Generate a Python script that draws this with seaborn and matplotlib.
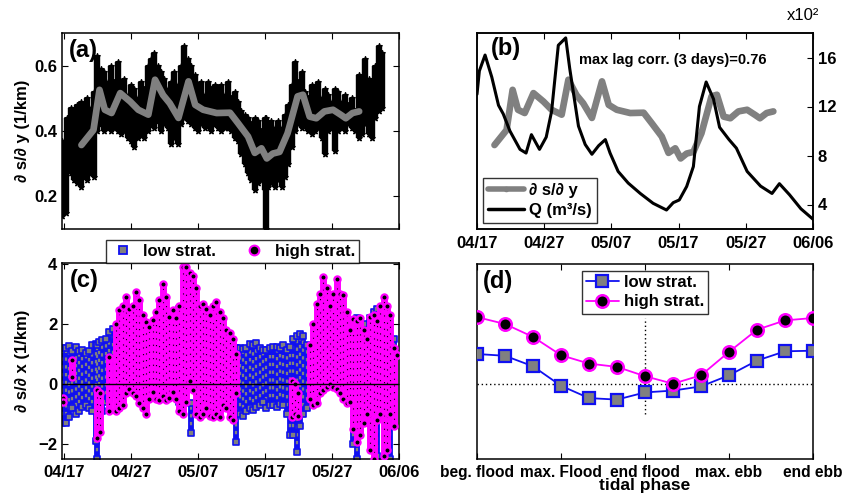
import numpy as np
import pandas as pd
import matplotlib
matplotlib.use("Agg")
import matplotlib.pyplot as plt
import seaborn as sns
from matplotlib.lines import Line2D

# ---------------- data ----------------
date_ticks = [0, 10, 20, 30, 40, 50]
date_labels = ["04/17", "04/27", "05/07", "05/17", "05/27", "06/06"]

# (a) tidal-scale ds/dy envelope (days since 04/17)
a_days = [-0.25, 0.25, 0.5, 1.0, 1.5, 2.0, 2.5, 3.0, 3.5, 4.0, 4.5, 5.0, 5.5, 6.0, 6.5, 7.0,
          7.5, 8.0, 8.5, 9.0, 9.5, 10.0, 10.5, 11.0, 11.5, 12.0, 12.5, 13.0, 13.5, 14.0, 14.5,
          15.0, 15.5, 16.0, 16.5, 17.0, 17.5, 18.0, 18.5, 19.0, 19.5, 20.0, 20.5, 21.0, 21.5,
          22.0, 22.5, 23.0, 23.5, 24.0, 24.5, 25.0, 25.5, 26.0, 26.5, 27.0, 27.5, 28.0, 28.5,
          29.0, 29.5, 30.0, 30.25, 30.5, 31.0, 31.5, 32.0, 32.5, 33.0, 33.5, 34.0, 34.5, 35.0,
          35.5, 36.0, 36.5, 37.0, 37.5, 38.0, 38.5, 39.0, 39.5, 40.0, 40.5, 41.0, 41.5, 42.0,
          42.5, 43.0, 43.5, 44.0, 44.5, 45.0, 45.5, 46.0, 46.5, 47.0, 47.5]
a_top = [0.37, 0.36, 0.44, 0.47, 0.43, 0.48, 0.49, 0.46, 0.50, 0.47, 0.52, 0.63, 0.59, 0.58,
         0.55, 0.60, 0.55, 0.61, 0.54, 0.56, 0.51, 0.54, 0.53, 0.50, 0.55, 0.53, 0.60, 0.62,
         0.64, 0.60, 0.58, 0.56, 0.53, 0.55, 0.58, 0.54, 0.60, 0.66, 0.62, 0.60, 0.57, 0.52,
         0.55, 0.51, 0.55, 0.53, 0.54, 0.50, 0.54, 0.51, 0.55, 0.50, 0.52, 0.49, 0.46, 0.45,
         0.44, 0.42, 0.44, 0.43, 0.40, 0.44, 0.44, 0.42, 0.43, 0.41, 0.43, 0.41, 0.45, 0.48,
         0.54, 0.61, 0.55, 0.58, 0.52, 0.50, 0.54, 0.52, 0.55, 0.50, 0.53, 0.51, 0.49, 0.53,
         0.52, 0.49, 0.51, 0.48, 0.50, 0.46, 0.57, 0.55, 0.62, 0.56, 0.51, 0.60, 0.66, 0.64]
a_bot = [0.14, 0.15, 0.30, 0.27, 0.25, 0.24, 0.23, 0.26, 0.25, 0.27, 0.26, 0.40, 0.42, 0.40,
         0.41, 0.40, 0.41, 0.40, 0.39, 0.40, 0.38, 0.37, 0.35, 0.38, 0.40, 0.38, 0.40, 0.42,
         0.41, 0.43, 0.40, 0.42, 0.41, 0.36, 0.38, 0.36, 0.42, 0.44, 0.43, 0.42, 0.41, 0.40,
         0.42, 0.41, 0.42, 0.40, 0.42, 0.41, 0.40, 0.41, 0.41, 0.40, 0.38, 0.37, 0.33, 0.30,
         0.27, 0.25, 0.22, 0.24, 0.25, 0.22, 0.10, 0.23, 0.24, 0.23, 0.25, 0.23, 0.26, 0.30,
         0.35, 0.40, 0.42, 0.41, 0.42, 0.40, 0.39, 0.40, 0.41, 0.38, 0.33, 0.40, 0.41, 0.34,
         0.40, 0.41, 0.40, 0.42, 0.41, 0.40, 0.38, 0.39, 0.42, 0.39, 0.38, 0.44, 0.46, 0.47]

# subtidal ds/dy (gray line)
g_days = [2.6, 4.4, 5.3, 6.1, 7.1, 8.4, 9.9, 11.1, 12.6, 13.6, 14.8, 15.8, 17.1, 18.6, 19.6,
          20.8, 22.8, 24.8, 26.0, 27.5, 28.5, 29.5, 30.3, 31.2, 32.2, 33.4, 34.9, 35.7, 36.7,
          37.7, 38.9, 40.2, 41.4, 42.1, 43.1, 44.1]
g_vals = [0.357, 0.403, 0.526, 0.465, 0.455, 0.516, 0.490, 0.465, 0.450, 0.557, 0.510, 0.485,
          0.440, 0.552, 0.480, 0.465, 0.455, 0.456, 0.424, 0.383, 0.333, 0.347, 0.316, 0.331,
          0.336, 0.393, 0.506, 0.511, 0.444, 0.439, 0.460, 0.465, 0.449, 0.439, 0.455, 0.460]

# (b) river discharge Q (x10^2 m^3/s)
q_days = [0.0, 0.35, 1.2, 2.2, 3.2, 3.9, 4.9, 6.4, 7.3, 8.1, 9.3, 10.3, 11.1, 12.1, 13.2,
          13.8, 15.1, 16.1, 17.1, 18.1, 19.1, 19.8, 21.0, 22.5, 24.3, 26.2, 28.2, 29.2, 30.1,
          31.2, 32.2, 33.1, 34.1, 35.2, 36.1, 37.5, 38.6, 40.2, 42.2, 43.9, 45.0, 46.5, 48.2, 50.0]
q_vals = [13.0, 14.9, 16.2, 14.4, 12.1, 11.4, 10.0, 8.5, 8.2, 9.7, 8.5, 9.5, 11.6, 17.0, 17.6,
          15.1, 10.4, 8.9, 8.1, 8.8, 9.3, 8.2, 6.7, 5.75, 4.9, 4.1, 3.55, 4.15, 4.37, 5.47, 7.1,
          12.0, 14.0, 12.6, 10.3, 9.3, 8.6, 6.7, 5.5, 4.9, 5.7, 4.8, 3.65, 2.8]

# (c) along-channel gradient columns: low stratification
lo_days = [-0.25, 0.25, 0.75, 1.25, 1.75, 2.25, 2.75, 3.25, 3.75, 4.25, 4.75, 5.0, 5.25, 5.75,
           6.25, 6.75, 7.25, 7.75, 16.75, 17.25, 17.75, 19.0,
           25.75, 26.25, 26.75, 27.25, 27.75, 28.25, 28.75, 29.25, 29.75, 30.25, 30.75, 31.25,
           31.75, 32.25, 32.75, 33.25, 33.75, 34.25, 34.75, 35.25, 35.75, 36.25,
           43.25, 43.75, 44.25, 44.75, 45.25, 45.75, 46.25, 46.75, 47.25, 47.75, 48.25, 48.75, 49.25]
lo_top = [1.2, 1.2, 1.27, 1.1, 1.25, 1.1, 1.15, 1.05, 1.1, 1.3, 1.35, 1.3, 1.4, 1.47,
          1.5, 1.74, 1.85, 1.6, 2.36, 2.5, 2.4, -0.64,
          1.2, 1.2, 1.19, 1.2, 1.35, 1.3, 1.36, 1.2, 1.15, 1.13, 1.2, 1.25,
          1.24, 1.2, 1.3, 1.15, 1.25, 1.5, 1.6, 1.69, 1.6, 1.3,
          2.0, 2.2, 2.1, 2.0, 1.8, 2.2, 2.4, 2.5, 2.3, 2.47, 2.0, 1.2, 1.5]
lo_bot = [-1.3, -1.3, -1.1, -0.8, -1.0, -0.9, -0.75, -0.7, -0.8, -0.9, -1.9, -2.5, -1.6, -0.9,
          -0.6, -0.5, -0.3, -0.2, -0.3, -0.6, -0.4, -1.64,
          -1.92, -1.0, -1.05, -0.9, -0.8, -0.85, -0.75, -0.7, -0.6, -0.8, -0.7, -0.7,
          -0.75, -0.65, -0.7, -1.0, -1.7, -1.7, -2.25, -1.4, -1.0, -0.8,
          -2.0, -2.5, -1.6, -1.2, -1.0, -1.3, -1.5, -2.4, -1.0, -1.0, -0.8, -2.5, -0.5]

# high stratification
hi_days = [-0.2, 1.25, 5.0, 5.4, 6.75,
           7.75, 8.25, 8.75, 9.25, 9.75, 10.25, 10.75, 11.25, 11.75, 12.25, 12.75, 13.25, 13.75,
           14.25, 14.75, 15.25, 15.75, 16.25, 16.75, 17.25, 17.75, 18.25, 18.75, 19.25, 19.75,
           20.25, 20.75, 21.25, 21.75, 22.25, 22.75, 23.25, 23.75, 24.25, 24.75, 25.25, 25.75,
           34.0, 34.5, 35.0,
           36.75, 37.25, 37.75, 38.25, 38.75, 39.25, 39.75, 40.25, 40.75, 41.25, 41.75, 42.25,
           42.75, 43.25, 43.75, 44.25, 44.75, 45.25, 45.75, 46.25, 46.75, 47.25, 47.75, 48.25,
           48.75, 49.25, 49.75]
hi_top = [-0.45, 0.8, -0.2, -0.3, 0.9,
          2.0, 2.47, 2.6, 2.91, 2.5, 2.6, 3.08, 2.8, 2.3, 2.08, 1.9, 2.13, 2.4,
          2.8, 3.36, 2.9, 2.24, 2.47, 2.2, 2.6, 3.9, 3.9, 3.7, 3.6, 3.2,
          2.6, 2.69, 2.5, 2.3, 2.6, 2.74, 2.4, 2.2, 1.8, 1.7, 1.5, 1.0,
          0.1, 0.0, -0.3,
          1.3, 2.0, 2.69, 3.0, 3.58, 3.2, 2.6, 3.0, 3.52, 3.0, 2.97, 2.4,
          1.8, 2.19, 2.1, 2.2, 1.8, 1.5, 2.25, 2.3, 2.1, 2.6, 2.91, 2.6,
          2.3, 1.2, 0.97]
hi_bot = [-0.6, 0.25, -1.8, -1.6, -0.9,
          -0.9, -0.8, -0.7, -0.3, -0.15, -0.3, -0.4, -0.64, -0.8, -0.98, -0.5, -0.26, -0.5,
          -0.53, -0.4, -0.53, -0.45, -0.26, -0.5, -0.9, -1.0, -0.6, 0.1, -0.2, -1.0,
          -1.09, -1.0, -0.8, -1.05, -1.09, -1.0, -1.1, -0.7, -0.8, -1.1, -1.2, -0.3,
          -1.1, -1.0, -1.05,
          -0.5, -0.7, -0.64, -0.3, -0.2, -0.1, 0.0, -0.1, -0.15, -0.3, -0.5, -0.64,
          -0.6, -1.5, -1.92, -1.7, -1.3, -1.0, -2.2, -2.5, -1.2, -1.0, -2.4, -2.2,
          -1.0, -1.4, 0.97]

# (d) tidal-phase composite
phase_idx = list(range(13))
phase_ticks = [0, 3, 6, 9, 12]
phase_labels = ["beg. flood", "max. Flood", "end flood", "max. ebb", "end ebb"]
low_strat = [1.0, 0.94, 0.59, -0.06, -0.47, -0.52, -0.28, -0.22, -0.08, 0.29, 0.78, 1.09, 1.11]
high_strat = [2.23, 2.0, 1.57, 0.96, 0.68, 0.57, 0.26, 0.01, 0.29, 1.07, 1.81, 2.12, 2.2]

# ---------------- style ----------------
sns.set_theme(style="ticks")
plt.rcParams['font.family'] = ['Liberation Sans', 'DejaVu Sans']
plt.rcParams.update({
    'font.weight': 'bold', 'axes.labelweight': 'bold',
    'text.color': 'black', 'axes.labelcolor': 'black',
    'xtick.direction': 'in', 'ytick.direction': 'in',
    'xtick.top': True, 'ytick.right': True,
    'xtick.major.size': 4, 'ytick.major.size': 4,
    'xtick.major.width': 0.8, 'ytick.major.width': 0.8,
    'axes.linewidth': 1.1, 'axes.edgecolor': 'black',
    'xtick.color': 'black', 'ytick.color': 'black',
    'font.size': 12, 'xtick.labelsize': 12, 'ytick.labelsize': 12,
})

BLUE = '#1010f0'
MAG = '#ff00ff'
GRAY = '#808080'

fig = plt.figure(figsize=(8.43, 4.96), dpi=100)
W, H = 843, 496

def add_ax(x0, y0, x1, y1):
    return fig.add_axes([x0 / W, 1 - y1 / H, (x1 - x0) / W, (y1 - y0) / H])

ax_a = add_ax(62, 33, 399, 229)
ax_b = add_ax(477, 33, 813, 229)
ax_c = add_ax(62, 263, 399, 459)
ax_d = add_ax(477, 264, 813, 459)

XL_AC = (-0.3, 50.05)

# ---- (a)
ax_a.vlines(a_days, a_bot, a_top, color='black', lw=4.6, zorder=2)
ax_a.scatter(a_days, a_top, marker='*', s=16, color='black', zorder=2)
ax_a.scatter(a_days, a_bot, marker='*', s=16, color='black', zorder=2)
sns.lineplot(x=g_days, y=g_vals, ax=ax_a, color=GRAY, lw=4.8, zorder=3,
             solid_capstyle='round', solid_joinstyle='round')
ax_a.set_xlim(*XL_AC)
ax_a.set_ylim(0.1, 0.7)
ax_a.set_yticks([0.2, 0.4, 0.6])
ax_a.set_yticklabels(["0.2", "0.4", "0.6"])
ax_a.set_xticks(date_ticks)
ax_a.set_xticklabels([])
ax_a.set_ylabel("∂ s/∂ y (1/km)", fontsize=12)
ax_a.yaxis.set_label_coords(-0.095, 0.5)
ax_a.text(0.02, 0.91, "(a)", transform=ax_a.transAxes, fontsize=17, fontweight='bold',
          ha='left', va='center', zorder=5)

# ---- (b)
sns.lineplot(x=g_days, y=g_vals, ax=ax_b, color=GRAY, lw=4.8,
             solid_capstyle='round', solid_joinstyle='round')
ax_b.set_ylim(0.1, 0.7)
ax_b.set_xlim(0, 50)
ax_b.set_yticks([])
ax_b.tick_params(axis='y', left=False, right=False, labelleft=False)
ax_b.set_xticks(date_ticks)
ax_b.set_xticklabels(date_labels)
ax_b.tick_params(axis='x', pad=5)
ax_b2 = ax_b.twinx()
sns.lineplot(x=q_days, y=q_vals, ax=ax_b2, color='black', lw=2.2)
ax_b2.set_ylim(2, 18)
ax_b2.set_yticks([4, 8, 12, 16])
ax_b2.set_yticklabels(["4", "8", "12", "16"])
ax_b2.tick_params(axis='y', direction='in', right=True, labelright=True, left=False)
ax_b2.set_xlim(0, 50)
ax_b.text(0.04, 0.92, "(b)", transform=ax_b.transAxes, fontsize=17, fontweight='bold',
          ha='left', va='center', zorder=5)
ax_b.text(0.305, 0.862, "max lag corr. (3 days)=0.76", transform=ax_b.transAxes,
          fontsize=10.5, fontweight='bold', ha='left', va='center')
fig.text(787 / W, 1 - 16 / H, "x10²", fontsize=12, fontweight='normal', ha='left', va='center')
hb = [Line2D([], [], color=GRAY, lw=4, marker='o', markersize=3),
      Line2D([], [], color='black', lw=2.5)]
leg_b = ax_b2.legend(hb, ["∂ s/∂ y", "Q (m³/s)"], loc='lower left', bbox_to_anchor=(0.0, 0.0),
                     frameon=True, fancybox=False, edgecolor='black', fontsize=12,
                     handlelength=2.2, handletextpad=0.3, borderpad=0.3, labelspacing=0.3,
                     borderaxespad=0.35)
leg_b.get_frame().set_linewidth(1.0)

# ---- (c)
ax_c.vlines(lo_days, lo_bot, lo_top, color=BLUE, lw=4.2, zorder=2)
ax_c.vlines(lo_days, lo_bot, lo_top, color=GRAY, lw=1.6, linestyles=(0, (1.5, 2.0)), zorder=2)
ax_c.scatter(lo_days + lo_days, lo_top + lo_bot, marker='s', s=22, facecolor=GRAY,
             edgecolor=BLUE, linewidth=1.2, zorder=2)
ax_c.vlines(hi_days, hi_bot, hi_top, color=MAG, lw=5.0, zorder=3)
ax_c.vlines(hi_days, hi_bot, hi_top, color='black', lw=0.8, linestyles=(0, (1, 5)), zorder=3)
ax_c.scatter(hi_days + hi_days, hi_top + hi_bot, marker='o', s=20, facecolor='black',
             edgecolor=MAG, linewidth=1.6, zorder=4)
ax_c.axhline(0, color='black', lw=1.0, zorder=5)
ax_c.set_xlim(*XL_AC)
ax_c.set_ylim(-2.5, 4.05)
ax_c.set_yticks([-2, 0, 2, 4])
ax_c.set_yticklabels(["−2", "0", "2", "4"])
ax_c.set_xticks(date_ticks)
ax_c.set_xticklabels(date_labels)
ax_c.tick_params(axis='x', pad=4)
ax_c.set_ylabel("∂ s/∂ x (1/km)", fontsize=12)
ax_c.yaxis.set_label_coords(-0.095, 0.5)
ax_c.text(0.024, 0.91, "(c)", transform=ax_c.transAxes, fontsize=17, fontweight='bold',
          ha='left', va='center', zorder=6)
hc = [Line2D([], [], ls='none', marker='s', markersize=6, markerfacecolor=GRAY,
             markeredgecolor=BLUE, markeredgewidth=1.3),
      Line2D([], [], ls='none', marker='o', markersize=7, markerfacecolor='black',
             markeredgecolor=MAG, markeredgewidth=1.5)]
leg_c = fig.legend(hc, ["low strat.", "high strat."], loc='lower center',
                   bbox_to_anchor=((108 + 357) / 2 / W, 1 - 263 / H), ncol=2,
                   frameon=True, fancybox=False, edgecolor='black', fontsize=12,
                   handlelength=1.5, handletextpad=0.5, columnspacing=1.5,
                   borderpad=0.25, borderaxespad=0)
leg_c.get_frame().set_linewidth(1.0)

# ---- (d)
df_d = pd.DataFrame({"phase": phase_idx, "low": low_strat, "high": high_strat})
ax_d.hlines(0, 0, 12, color='black', lw=1.0, linestyles=(0, (1, 2)), zorder=1)
ax_d.vlines(6, -1.0, 2.2, color='black', lw=1.0, linestyles=(0, (1, 2)), zorder=1)
sns.lineplot(data=df_d, x="phase", y="low", ax=ax_d, color=BLUE, lw=1.3, marker='s',
             markersize=8, markerfacecolor=GRAY, markeredgecolor=BLUE, markeredgewidth=1.6,
             zorder=3)
sns.lineplot(data=df_d, x="phase", y="high", ax=ax_d, color=MAG, lw=1.3, marker='o',
             markersize=9, markerfacecolor='black', markeredgecolor=MAG, markeredgewidth=1.8,
             zorder=4)
ax_d.set_xlim(0, 12)
ax_d.set_ylim(-2.5, 4.0)
ax_d.set_yticks([])
ax_d.tick_params(axis='y', left=False, right=False)
ax_d.set_xticks(phase_ticks)
ax_d.set_xticklabels(phase_labels, fontsize=11.2)
ax_d.tick_params(axis='x', pad=4)
ax_d.set_xlabel("tidal phase", fontsize=12.5, labelpad=-1)
ax_d.set_ylabel("")
ax_d.text(0.018, 0.91, "(d)", transform=ax_d.transAxes, fontsize=17, fontweight='bold',
          ha='left', va='center', zorder=6)
hd = [Line2D([], [], color=BLUE, lw=1.3, marker='s', markersize=8, markerfacecolor=GRAY,
             markeredgecolor=BLUE, markeredgewidth=1.6),
      Line2D([], [], color=MAG, lw=1.3, marker='o', markersize=9, markerfacecolor='black',
             markeredgecolor=MAG, markeredgewidth=1.8)]
leg_d = ax_d.legend(hd, ["low strat.", "high strat."], loc='upper center',
                    bbox_to_anchor=((645 - 477) / 336, 1 - 7 / 195),
                    frameon=True, fancybox=False, edgecolor='black', fontsize=12,
                    handlelength=2.0, handletextpad=0.3, borderpad=0.25, labelspacing=0.25,
                    borderaxespad=0)
leg_d.get_frame().set_linewidth(1.0)

ax_a.set_xlabel("")
ax_b.set_xlabel("")
ax_b.set_ylabel("")
ax_b2.set_ylabel("")
ax_c.set_xlabel("")

fig.savefig("out.png", dpi=100)
